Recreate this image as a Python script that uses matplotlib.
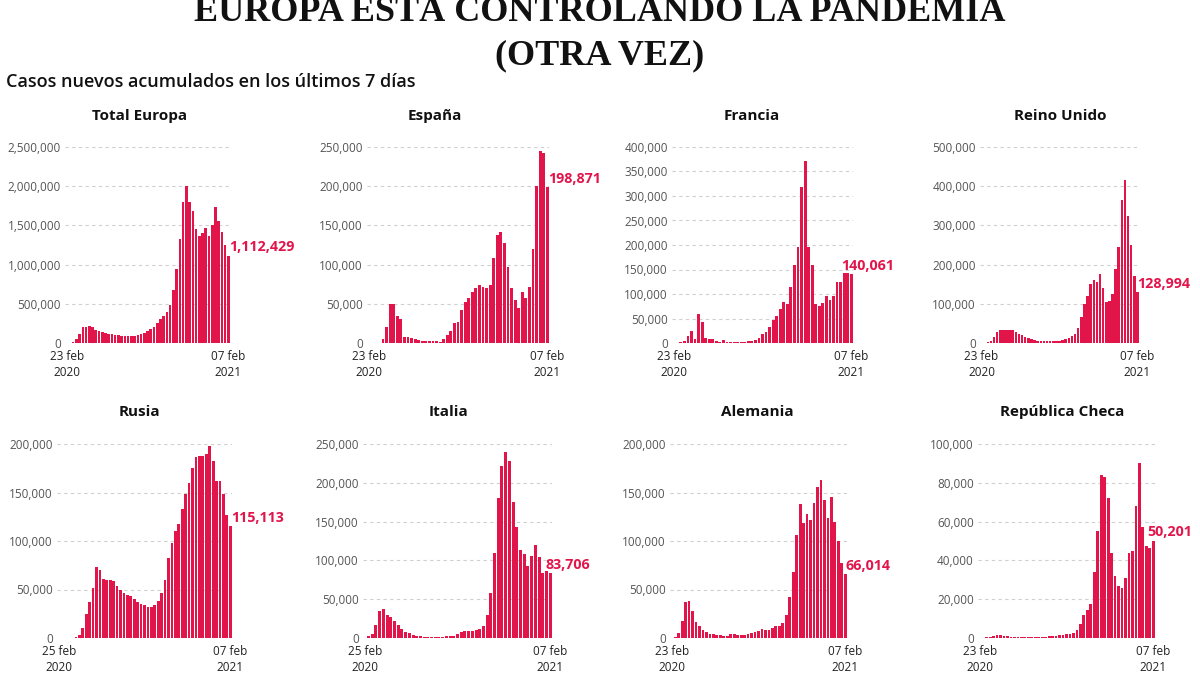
import matplotlib
matplotlib.use("Agg")
import matplotlib.pyplot as plt
from matplotlib import font_manager as fm
from matplotlib.ticker import FuncFormatter

# ---------------- data (weekly new cases, last 7 days) ----------------
europa = [0, 3000, 10000, 50000, 120000, 200000, 200000, 220000, 200000, 160000,
          155000, 140000, 130000, 120000, 110000, 105000, 100000, 95000, 90000, 90000,
          85000, 90000, 100000, 110000, 130000, 150000, 180000, 210000, 250000, 300000,
          340000, 400000, 480000, 680000, 940000, 1330000, 1800000, 2000000, 1800000, 1680000,
          1450000, 1370000, 1400000, 1470000, 1370000, 1500000, 1740000, 1550000, 1420000, 1250000,
          1112429]
espana = [0, 0, 0, 0, 5000, 20000, 50000, 50000, 35000, 30000,
          8000, 8000, 6000, 5000, 4000, 3000, 2000, 2000, 2000, 2000,
          1000, 5000, 10000, 15000, 25000, 27000, 42000, 52000, 58000, 65000,
          70000, 74000, 72000, 70000, 74000, 108000, 138000, 141000, 128000, 97000,
          70000, 55000, 45000, 65000, 57000, 72000, 120000, 200000, 245000, 242000,
          198871]
francia = [0, 0, 2000, 5000, 15000, 25000, 8000, 60000, 42000, 10000,
           8000, 8000, 4000, 3000, 6000, 2000, 2000, 2000, 2500, 3000,
           3000, 4000, 5000, 7000, 10000, 18000, 22000, 33000, 47000, 55000,
           70000, 83000, 80000, 115000, 160000, 195000, 318000, 372000, 195000, 160000,
           80000, 75000, 82000, 95000, 87000, 95000, 125000, 125000, 142000, 142000,
           140061]
reino_unido = [0, 500, 2000, 6000, 15000, 28000, 32000, 33000, 33000, 33000,
               32000, 28000, 22000, 20000, 16000, 12000, 9000, 7000, 6000, 5000,
               4500, 4000, 4000, 4500, 5000, 6000, 7000, 9000, 12000, 17000,
               24000, 38000, 66000, 100000, 120000, 150000, 160000, 155000, 175000, 140000,
               105000, 106000, 125000, 190000, 245000, 365000, 415000, 325000, 250000, 170000,
               128994]
rusia = [0, 0, 0, 0, 500, 1000, 3000, 10000, 25000, 37000,
         52000, 73000, 70000, 61000, 60000, 60000, 59000, 54000, 49000, 46000,
         44000, 43000, 40000, 37000, 35000, 34000, 32000, 32000, 34000, 38000,
         46000, 60000, 82000, 98000, 110000, 118000, 133000, 148000, 160000, 175000,
         187000, 188000, 188000, 190000, 198000, 182000, 162000, 162000, 148000, 127000,
         115113]
italia = [500, 2000, 5000, 17000, 35000, 38000, 30000, 27000, 22000, 17000,
          12000, 8000, 6000, 4000, 3000, 2000, 1500, 1300, 1200, 1200,
          1300, 1500, 2000, 2500, 3000, 5000, 8000, 9000, 9000, 9500,
          10000, 12000, 15000, 30000, 58000, 110000, 180000, 222000, 240000, 228000,
          175000, 143000, 113000, 108000, 93000, 106000, 120000, 105000, 84000, 86000,
          83706]
alemania = [0, 1000, 5000, 18000, 37000, 38000, 28000, 17000, 12000, 8000,
            6000, 4500, 4000, 3500, 3000, 2500, 2000, 4000, 4000, 3500,
            3000, 3000, 4500, 5000, 6000, 7000, 9000, 8500, 8500, 10000,
            12000, 12500, 15000, 24000, 42000, 68000, 106000, 138000, 119000, 128000,
            122000, 139000, 156000, 163000, 142000, 124000, 145000, 120000, 100000, 77000,
            66014]
checa = [100, 200, 300, 500, 1000, 1500, 1400, 1100, 900, 700,
         500, 400, 400, 400, 300, 300, 400, 400, 500, 700,
         900, 1000, 1200, 1500, 1800, 2000, 2000, 2500, 4000, 7000,
         12000, 14500, 17500, 34000, 55000, 84000, 83000, 72000, 44000, 32000,
         27000, 26000, 31000, 44000, 45000, 68000, 90000, 57000, 47500, 46500,
         50201]

titles = ["Total Europa", "España", "Francia", "Reino Unido",
          "Rusia", "Italia", "Alemania", "República Checa"]
series = [europa, espana, francia, reino_unido, rusia, italia, alemania, checa]
y_max = [2500000, 250000, 400000, 500000, 200000, 250000, 200000, 100000]
y_step = [500000, 50000, 50000, 100000, 50000, 50000, 50000, 20000]
start_labels = ["23 feb\n2020", "23 feb\n2020", "23 feb\n2020", "23 feb\n2020",
                "25 feb\n2020", "25 feb\n2020", "23 feb\n2020", "23 feb\n2020"]
end_label = "07 feb\n2021"
value_labels = ["1,112,429", "198,871", "140,061", "128,994",
                "115,113", "83,706", "66,014", "50,201"]

# ---------------- layout (pixel boxes) ----------------
W, H = 1200, 675
x_spans = [(65, 230), (367, 549), (672, 853), (980, 1139),
           (57, 232), (363, 552), (670, 847), (978, 1155)]
y_spans = [(343, 147)] * 4 + [(638, 444)] * 4
title_pos = [(140, 116), (435, 116), (752, 116), (1060, 116),
             (139, 412), (449, 412), (757, 412), (1062, 412)]
label_dx = [0.2, 0.2, -2.8, 0.0, 0.2, -1.2, 0.2, -1.6]

BAR = "#E2154B"
names = {f.name for f in fm.fontManager.ttflist}
sans = "Open Sans" if "Open Sans" in names else "DejaVu Sans"
serif = "Liberation Serif" if "Liberation Serif" in names else "DejaVu Serif"

plt.rcParams["font.family"] = [sans, "DejaVu Sans"]

fig = plt.figure(figsize=(W / 100, H / 100), dpi=100)
fig.patch.set_facecolor("white")

fig.text(0.5, 1 - 21 / H, "EUROPA ESTÁ CONTROLANDO LA PANDEMIA", ha="center",
         va="baseline", fontsize=26, fontweight="bold", family=serif, color="#111111")
fig.text(0.5, 1 - 64 / H, "(OTRA VEZ)", ha="center", va="baseline",
         fontsize=26, fontweight="bold", family=serif, color="#111111")
fig.text(6 / W, 1 - 82 / H, "Casos nuevos acumulados en los últimos 7 días",
         ha="left", va="center", fontsize=13, fontweight="semibold", color="#111111")

fmt = FuncFormatter(lambda v, p: f"{int(v):,}")

for i, data in enumerate(series):
    x0, x1 = x_spans[i]
    y0, y1 = y_spans[i]
    ax = fig.add_axes([x0 / W, 1 - y0 / H, (x1 - x0) / W, (y0 - y1) / H])
    n = len(data)
    xs = list(range(n))
    ax.bar(xs, data, width=0.8, color=BAR, edgecolor="none", zorder=3)
    ax.set_xlim(-0.5, n - 0.5)
    ax.set_ylim(0, y_max[i])
    ticks = list(range(0, y_max[i] + 1, y_step[i]))
    ax.set_yticks(ticks)
    ax.yaxis.set_major_formatter(fmt)
    ax.grid(axis="y", color="#cfcfcf", linestyle=(0, (3, 3)), linewidth=0.8, zorder=0)
    ax.set_xticks([0, n - 1])
    ax.set_xticklabels([start_labels[i], end_label], fontsize=8.5, color="#222222",
                       linespacing=1.35)
    ax.tick_params(axis="both", length=0)
    ax.tick_params(axis="y", labelsize=8.5, labelcolor="#555555", pad=3)
    ax.tick_params(axis="x", pad=5)
    for s in ax.spines.values():
        s.set_visible(False)
    ax.set_facecolor("none")
    ax.annotate(value_labels[i], xy=(n - 1 + label_dx[i], data[-1]),
                xytext=(0, 6), textcoords="offset points",
                ha="left", va="center", fontsize=10.3, fontweight="bold",
                color=BAR, annotation_clip=False, zorder=5)
    tx, ty = title_pos[i]
    fig.text(tx / W, 1 - ty / H, titles[i], ha="center", va="center",
             fontsize=11, fontweight="bold", color="#111111")

fig.savefig("out.png", dpi=100, facecolor="white")
